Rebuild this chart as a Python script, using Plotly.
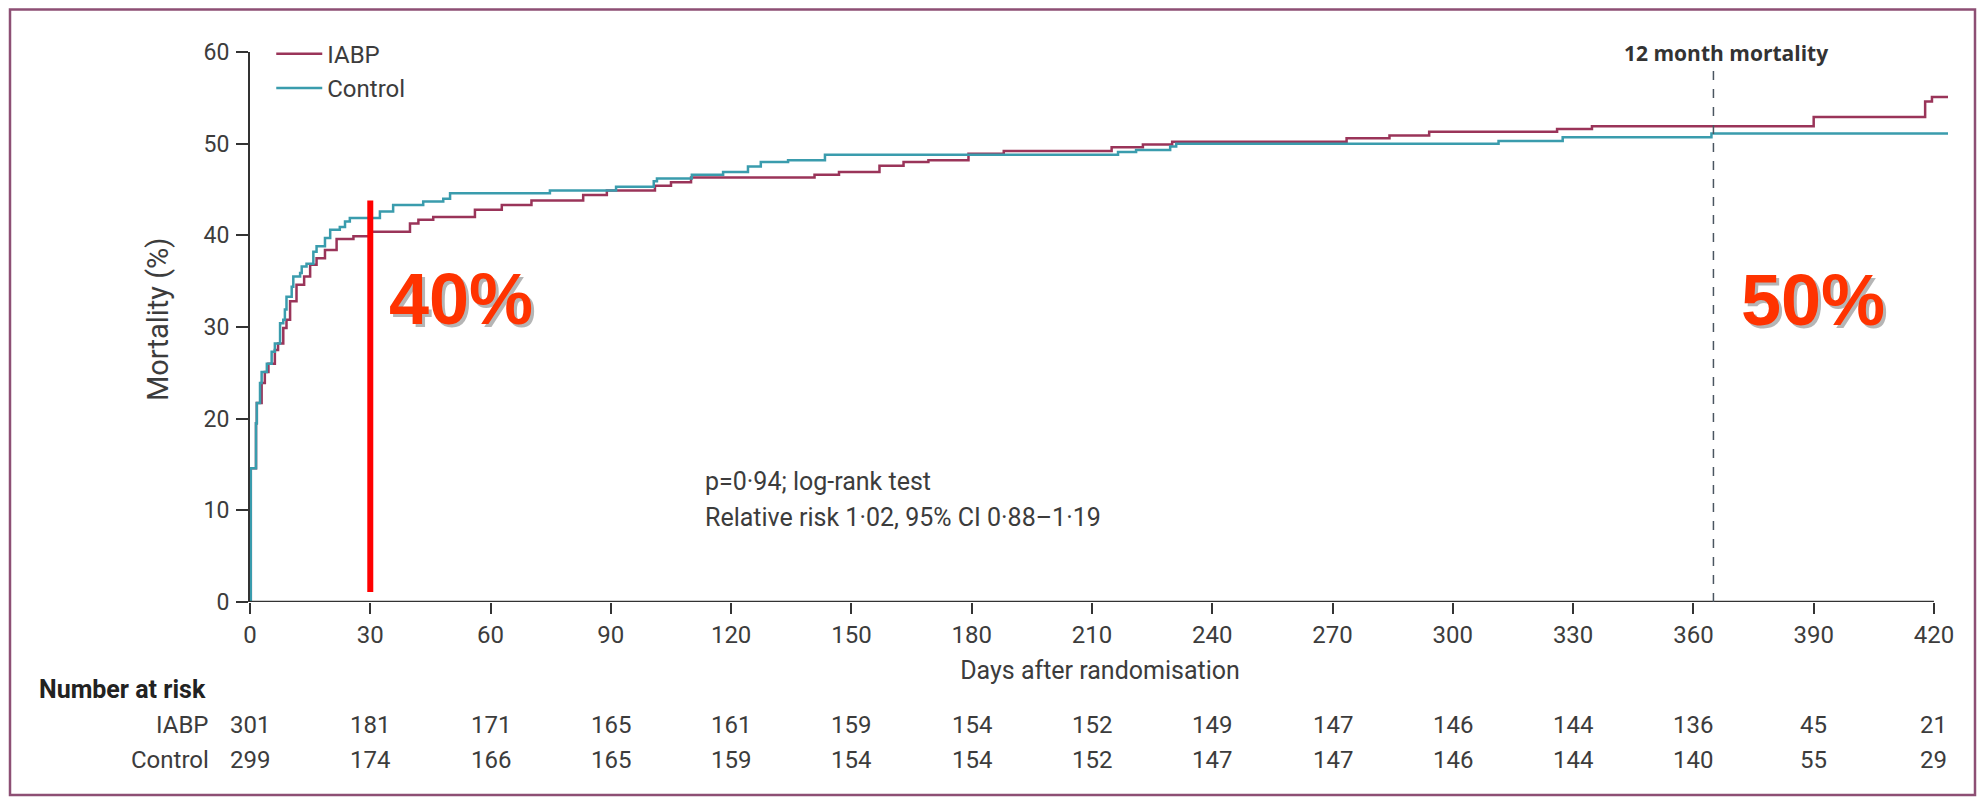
import plotly.graph_objects as go

# ---------------- data ----------------
control_days = [0, 0.2, 1.5, 1.7, 2.5, 2.9, 4.2, 5.4, 6.2, 7.5, 8.3, 8.7, 9.1, 10.4, 10.8, 12.5,
                12.9, 14.1, 15.8, 16.6, 18.7, 20.0, 22.4, 23.7, 24.9, 32.4, 35.7, 43.2, 48.2, 49.9,
                74.8, 91.3, 100.7, 101.5, 110.2, 118.0, 124.2, 127.4, 134.2, 143.4, 216.5, 221.0,
                229.5, 231.0, 311.4, 327.4, 364.5, 423.5]
control_mort = [0, 14.6, 19.5, 21.7, 23.9, 25.1, 26.0, 27.3, 28.2, 30.4, 30.8, 31.9, 33.3, 34.4, 35.5, 35.9,
                36.6, 36.9, 38.2, 38.8, 39.7, 40.6, 40.9, 41.5, 41.9, 42.6, 43.3, 43.7, 44.0, 44.6,
                44.9, 45.3, 45.9, 46.2, 46.6, 46.9, 47.5, 48.0, 48.2, 48.8, 49.1, 49.3,
                49.7, 50.0, 50.3, 50.7, 51.1, 51.1]

iabp_days = [0, 0.2, 1.5, 1.7, 2.9, 3.7, 4.6, 6.2, 7.0, 8.3, 9.1, 10.0, 11.6, 13.5, 15.0, 16.6,
             18.7, 21.6, 25.8, 29.9, 39.9, 42.0, 45.7, 56.1, 62.8, 70.2, 83.1, 89.0, 101.0, 105.0,
             110.0, 140.8, 146.9, 157.0, 163.0, 169.2, 179.2, 188.0, 214.9, 222.7, 230.0, 273.5,
             284.2, 294.1, 326.0, 334.7, 390.0, 417.8, 419.5, 423.5]
iabp_mort = [0, 14.6, 19.5, 21.7, 23.9, 25.1, 26.0, 27.5, 28.2, 29.9, 30.8, 32.8, 34.6, 35.5, 36.8, 37.5,
             38.4, 39.6, 39.9, 40.4, 41.3, 41.7, 42.0, 42.8, 43.3, 43.8, 44.4, 44.9, 45.4, 45.8,
             46.3, 46.6, 46.9, 47.6, 48.0, 48.2, 48.9, 49.2, 49.6, 49.9, 50.2, 50.6,
             50.9, 51.3, 51.6, 51.9, 52.9, 54.6, 55.1, 55.1]

tick_days = [0, 30, 60, 90, 120, 150, 180, 210, 240, 270, 300, 330, 360, 390, 420]
risk_iabp = [301, 181, 171, 165, 161, 159, 154, 152, 149, 147, 146, 144, 136, 45, 21]
risk_control = [299, 174, 166, 165, 159, 154, 154, 152, 147, 147, 146, 144, 140, 55, 29]
y_ticks = [0, 10, 20, 30, 40, 50, 60]

highlight_day = 30
highlight_range = [1.1, 43.8]
twelve_month_day = 365
label_40 = "40%"
label_50 = "50%"

# ---------------- style ----------------
FONT = "Liberation Sans Narrow, Roboto, Liberation Sans, sans-serif"
TXT = "#3c3c3c"
IABP_COL = "#9a3459"
CTRL_COL = "#3a9cad"
OFF = 8                      # default page body margin
W, H = 1985 - 2 * OFF, 805 - 2 * OFF
L, T = 250 - OFF, 52 - OFF
R = W - (1950 - OFF)
B = H - (602 - OFF)
X_MAX = 424


def px(v):  # page x pixel -> paper
    return (v - OFF - L) / (W - L - R)


def py(v):  # page y pixel -> paper
    return (H - B - (v - OFF)) / (H - T - B)


fig = go.Figure()
fig.add_trace(go.Scatter(x=iabp_days, y=iabp_mort, mode="lines", line=dict(color=IABP_COL, width=2.5, shape="hv"),
                         name="IABP"))
fig.add_trace(go.Scatter(x=control_days, y=control_mort, mode="lines", line=dict(color=CTRL_COL, width=2.5, shape="hv"),
                         name="Control"))

fig.update_layout(
    width=W, height=H, margin=dict(l=L, r=R, t=T, b=B, autoexpand=False),
    paper_bgcolor="white", plot_bgcolor="white",
    font=dict(family=FONT, size=22, color=TXT),
    showlegend=True,
    legend=dict(x=0.0125, y=1.037, xanchor="left", yanchor="top", bgcolor="rgba(0,0,0,0)",
                font=dict(family=FONT, size=24, color=TXT), tracegroupgap=0, itemwidth=46),
)
fig.update_xaxes(range=[0, X_MAX], tickmode="array", tickvals=tick_days, ticktext=[str(t) for t in tick_days],
                 showline=False, zeroline=False, showgrid=False, ticks="outside", ticklen=11, tickwidth=1.5,
                 tickcolor="#333", tickfont=dict(family=FONT, size=24, color=TXT), ticklabelstandoff=0,
                 automargin=False,
                 title=dict(text="Days after randomisation", font=dict(family=FONT, size=25, color=TXT), standoff=13))
fig.update_yaxes(range=[0, 60], tickmode="array", tickvals=y_ticks, showline=True, linecolor="#333", linewidth=2,
                 zeroline=False, showgrid=False, ticks="outside", ticklen=12, tickwidth=1.5, tickcolor="#333",
                 tickfont=dict(family=FONT, size=23, color=TXT), ticklabelstandoff=2, automargin=False)

# y axis title (placed slightly above the plot centre, as in the original)
fig.add_annotation(x=px(158), y=py(320), xref="paper", yref="paper", text="Mortality (%)", textangle=-90,
                   showarrow=False, xanchor="center", yanchor="middle",
                   font=dict(family=FONT, size=29, color=TXT))

# x axis line only up to 420
fig.add_shape(type="line", xref="x", yref="y", x0=0, x1=tick_days[-1], y0=0, y1=0,
              line=dict(color="#333", width=2.5), layer="above")

# outer border (kept inside the figure canvas)
fig.add_shape(type="rect", xref="paper", yref="paper", x0=px(10), x1=px(1975), y0=py(795), y1=py(9.5),
              line=dict(color="#8d4f74", width=2.5), layer="below")

# 12 month dashed line
fig.add_shape(type="line", xref="x", yref="y", x0=twelve_month_day, x1=twelve_month_day, y0=0, y1=58.4,
              line=dict(color="#4a5560", width=1.5, dash="dash"))
fig.add_annotation(x=twelve_month_day, y=py(53), xref="x", yref="paper", text="<b>12 month mortality</b>",
                   showarrow=False, yanchor="middle", xshift=13,
                   font=dict(family="Open Sans, sans-serif", size=21, color="#333"))

# red highlight line at 30 days
fig.add_shape(type="line", xref="x", yref="y", x0=highlight_day, x1=highlight_day,
              y0=highlight_range[0], y1=highlight_range[1], line=dict(color="#ff0000", width=6))

# big labels with shadow
for txt, xd, yd in [(label_40, 52.7, 33.1), (label_50, 389.8, 32.9)]:
    fig.add_annotation(x=xd, y=yd, xref="x", yref="y", text=f"<b>{txt}</b>", showarrow=False,
                       xshift=3, yshift=-3,
                       font=dict(family="Liberation Sans, Arial, sans-serif", size=72, color="rgba(90,90,90,0.45)"))
    fig.add_annotation(x=xd, y=yd, xref="x", yref="y", text=f"<b>{txt}</b>", showarrow=False,
                       font=dict(family="Liberation Sans, Arial, sans-serif", size=72, color="#ff3300"))

# statistics text
fig.add_annotation(x=113, y=13.1, xref="x", yref="y", xanchor="left", yanchor="middle",
                   text="p=0·94; log-rank test", showarrow=False, align="left",
                   font=dict(family=FONT, size=25, color=TXT))
fig.add_annotation(x=113, y=9.2, xref="x", yref="y", xanchor="left", yanchor="middle",
                   text="Relative risk 1·02, 95% CI 0·88–1·19", showarrow=False, align="left",
                   font=dict(family=FONT, size=25, color=TXT))

# number at risk table
fig.add_annotation(x=px(37), y=py(689), xref="paper", yref="paper", xanchor="left", yanchor="middle",
                   text="<b>Number at risk</b>", showarrow=False, font=dict(family=FONT, size=25, color="#222"))
for label, vals, yy in [("IABP", risk_iabp, 725), ("Control", risk_control, 760)]:
    fig.add_annotation(x=px(211), y=py(yy), xref="paper", yref="paper", xanchor="right", yanchor="middle",
                       text=label, showarrow=False, font=dict(family=FONT, size=24, color=TXT))
    for d, v in zip(tick_days, vals):
        fig.add_annotation(x=d, y=py(yy), xref="x", yref="paper", xanchor="center", yanchor="middle",
                           text=str(v), showarrow=False, font=dict(family=FONT, size=24, color=TXT))

fig.write_html("out.html")
